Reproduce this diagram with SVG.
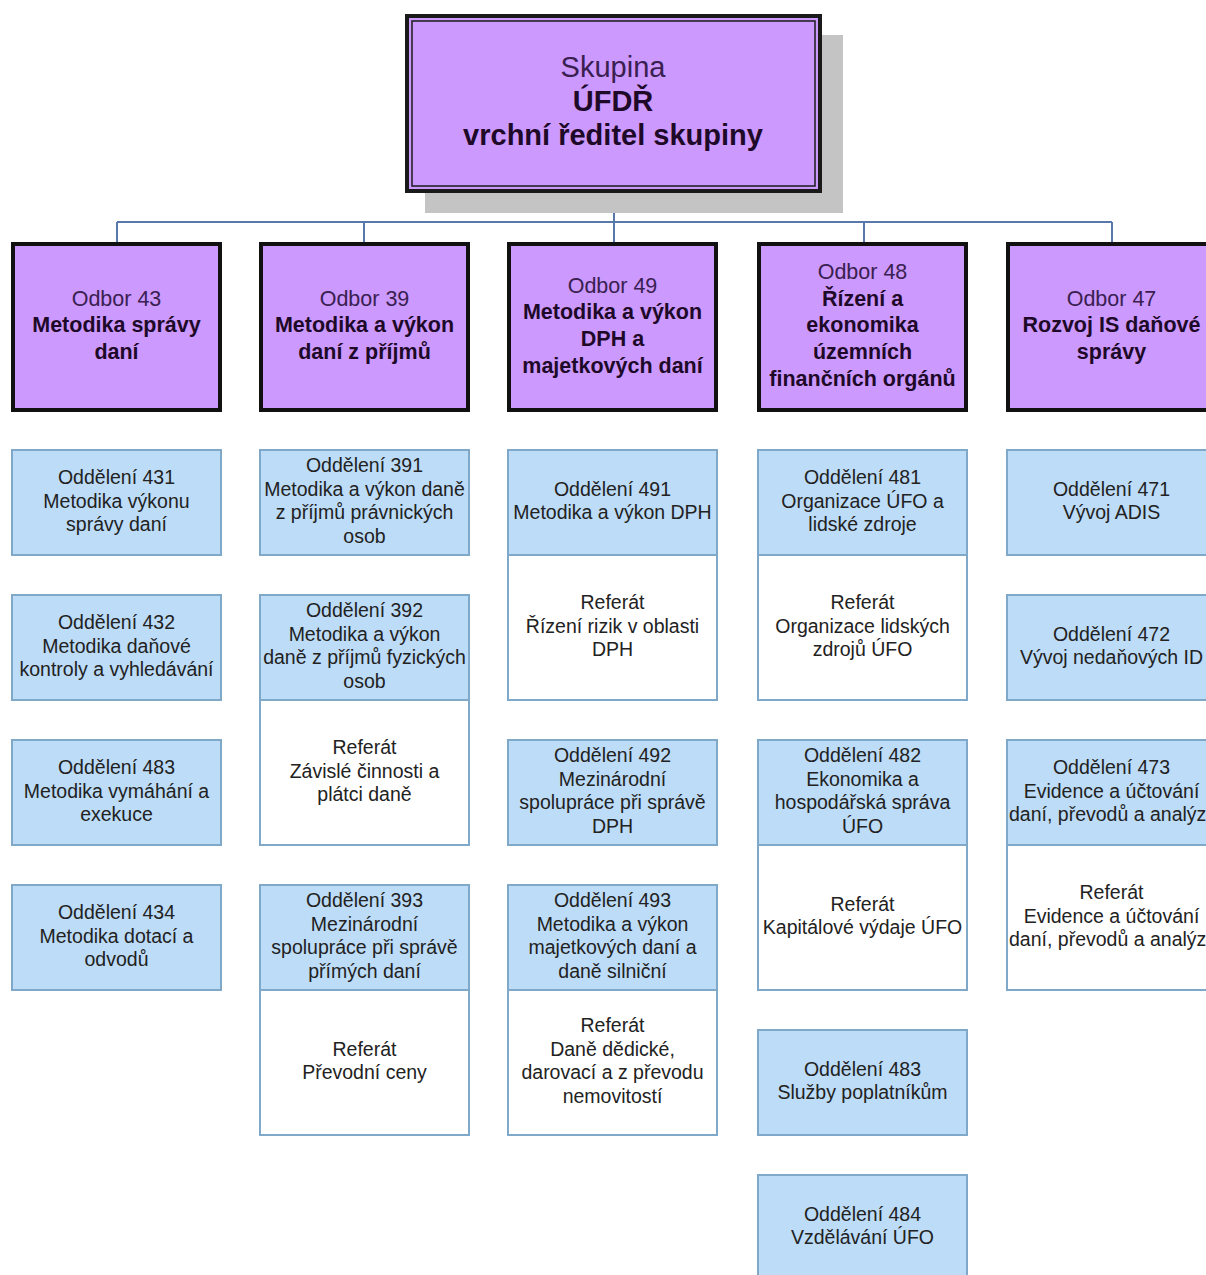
<svg xmlns="http://www.w3.org/2000/svg" width="1206" height="1275" viewBox="0 0 1206 1275">
<style>
.odb{fill:#CC99FF;stroke:#111;stroke-width:4}
.dep{fill:#BDDCF8;stroke:#80A8C8;stroke-width:2}
.ref{fill:#FFFFFF;stroke:#80A8C8;stroke-width:2}
.t{font-family:"Liberation Sans",Arial,sans-serif;font-size:19.5px;fill:#222;text-anchor:middle}
.ts{font-family:"Liberation Sans",Arial,sans-serif;font-size:19.5px;fill:#222;text-anchor:start}
.or{font-family:"Liberation Sans",Arial,sans-serif;font-size:21.5px;fill:#3a2050;text-anchor:middle}
.ob{font-family:"Liberation Sans",Arial,sans-serif;font-size:21.5px;font-weight:bold;fill:#1e0a28;text-anchor:middle}
.tr{font-family:"Liberation Sans",Arial,sans-serif;font-size:29px;fill:#3a2050;text-anchor:middle}
.tb{font-family:"Liberation Sans",Arial,sans-serif;font-size:29px;font-weight:bold;fill:#1e0a28;text-anchor:middle}
.con{fill:none;stroke:#5878AC;stroke-width:2}
</style>
<rect width="1206" height="1275" fill="#FFFFFF"/>
<g id="connectors">
<path class="con" d="M614,192 V222 M117,222 H1112 M117,222 V244 M364,222 V244 M614,222 V244 M864,222 V244 M1112,222 V244"/>
</g>
<g id="skupina">
<rect x="425" y="35" width="418" height="178" fill="#C4C4C4"/>
<rect x="407" y="16" width="413" height="175" fill="#CC99FF" stroke="#1a1a1a" stroke-width="4"/>
<rect x="412" y="21" width="403" height="165" fill="none" stroke="#1a1a1a" stroke-width="1.5"/>
<text class="tr" x="613" y="77">Skupina</text>
<text class="tb" x="613" y="111">ÚFDŘ</text>
<text class="tb" x="613" y="145">vrchní ředitel skupiny</text>
</g>
<g id="odbor43">
<rect class="odb" x="13" y="244" width="207" height="166"/>
<text class="or" x="116.5" y="305.5">Odbor 43</text>
<text class="ob" x="116.5" y="332.2">Metodika správy</text>
<text class="ob" x="116.5" y="358.9">daní</text>
</g>
<g id="odbor39">
<rect class="odb" x="261" y="244" width="207" height="166"/>
<text class="or" x="364.5" y="305.5">Odbor 39</text>
<text class="ob" x="364.5" y="332.2">Metodika a výkon</text>
<text class="ob" x="364.5" y="358.9">daní z příjmů</text>
</g>
<g id="odbor49">
<rect class="odb" x="509" y="244" width="207" height="166"/>
<text class="or" x="612.5" y="292.5">Odbor 49</text>
<text class="ob" x="612.5" y="319.2">Metodika a výkon</text>
<text class="ob" x="612.5" y="345.9">DPH a</text>
<text class="ob" x="612.5" y="372.6">majetkových daní</text>
</g>
<g id="odbor48">
<rect class="odb" x="759" y="244" width="207" height="166"/>
<text class="or" x="862.5" y="279">Odbor 48</text>
<text class="ob" x="862.5" y="305.7">Řízení a</text>
<text class="ob" x="862.5" y="332.4">ekonomika</text>
<text class="ob" x="862.5" y="359.1">územních</text>
<text class="ob" x="862.5" y="385.8">finančních orgánů</text>
</g>
<g id="odbor47">
<rect class="odb" x="1008" y="244" width="207" height="166"/>
<text class="or" x="1111.5" y="305.5">Odbor 47</text>
<text class="ob" x="1111.5" y="332.2">Rozvoj IS daňové</text>
<text class="ob" x="1111.5" y="358.9">správy</text>
</g>
<g id="odd431">
<rect class="dep" x="12" y="450" width="209" height="105"/>
<text class="t" y="484"><tspan x="116.5">Oddělení 431</tspan><tspan x="116.5" dy="23.5">Metodika výkonu</tspan><tspan x="116.5" dy="23.5">správy daní</tspan></text>
</g>
<g id="odd432">
<rect class="dep" x="12" y="595" width="209" height="105"/>
<text class="t" y="629"><tspan x="116.5">Oddělení 432</tspan><tspan x="116.5" dy="23.5">Metodika daňové</tspan><tspan x="116.5" dy="23.5">kontroly a vyhledávání</tspan></text>
</g>
<g id="odd483a">
<rect class="dep" x="12" y="740" width="209" height="105"/>
<text class="t" y="774"><tspan x="116.5">Oddělení 483</tspan><tspan x="116.5" dy="23.5">Metodika vymáhání a</tspan><tspan x="116.5" dy="23.5">exekuce</tspan></text>
</g>
<g id="odd434">
<rect class="dep" x="12" y="885" width="209" height="105"/>
<text class="t" y="919"><tspan x="116.5">Oddělení 434</tspan><tspan x="116.5" dy="23.5">Metodika dotací a</tspan><tspan x="116.5" dy="23.5">odvodů</tspan></text>
</g>
<g id="odd391">
<rect class="dep" x="260" y="450" width="209" height="105"/>
<text class="t" y="472.25"><tspan x="364.5">Oddělení 391</tspan><tspan x="364.5" dy="23.5">Metodika a výkon daně</tspan><tspan x="364.5" dy="23.5">z příjmů právnických</tspan><tspan x="364.5" dy="23.5">osob</tspan></text>
</g>
<g id="odd392">
<rect class="dep" x="260" y="595" width="209" height="105"/>
<text class="t" y="617.25"><tspan x="364.5">Oddělení 392</tspan><tspan x="364.5" dy="23.5">Metodika a výkon</tspan><tspan x="364.5" dy="23.5">daně z příjmů fyzických</tspan><tspan x="364.5" dy="23.5">osob</tspan></text>
</g>
<g id="ref392">
<rect class="ref" x="260" y="700" width="209" height="145"/>
<text class="t" y="754"><tspan x="364.5">Referát</tspan><tspan x="364.5" dy="23.5">Závislé činnosti a</tspan><tspan x="364.5" dy="23.5">plátci daně</tspan></text>
</g>
<g id="odd393">
<rect class="dep" x="260" y="885" width="209" height="105"/>
<text class="t" y="907.25"><tspan x="364.5">Oddělení 393</tspan><tspan x="364.5" dy="23.5">Mezinárodní</tspan><tspan x="364.5" dy="23.5">spolupráce při správě</tspan><tspan x="364.5" dy="23.5">přímých daní</tspan></text>
</g>
<g id="ref393">
<rect class="ref" x="260" y="990" width="209" height="145"/>
<text class="t" y="1055.75"><tspan x="364.5">Referát</tspan><tspan x="364.5" dy="23.5">Převodní ceny</tspan></text>
</g>
<g id="odd491">
<rect class="dep" x="508" y="450" width="209" height="105"/>
<text class="t" y="495.75"><tspan x="612.5">Oddělení 491</tspan><tspan x="612.5" dy="23.5">Metodika a výkon DPH</tspan></text>
</g>
<g id="ref491">
<rect class="ref" x="508" y="555" width="209" height="145"/>
<text class="t" y="609"><tspan x="612.5">Referát</tspan><tspan x="612.5" dy="23.5">Řízení rizik v oblasti</tspan><tspan x="612.5" dy="23.5">DPH</tspan></text>
</g>
<g id="odd492">
<rect class="dep" x="508" y="740" width="209" height="105"/>
<text class="t" y="762.25"><tspan x="612.5">Oddělení 492</tspan><tspan x="612.5" dy="23.5">Mezinárodní</tspan><tspan x="612.5" dy="23.5">spolupráce při správě</tspan><tspan x="612.5" dy="23.5">DPH</tspan></text>
</g>
<g id="odd493">
<rect class="dep" x="508" y="885" width="209" height="105"/>
<text class="t" y="907.25"><tspan x="612.5">Oddělení 493</tspan><tspan x="612.5" dy="23.5">Metodika a výkon</tspan><tspan x="612.5" dy="23.5">majetkových daní a</tspan><tspan x="612.5" dy="23.5">daně silniční</tspan></text>
</g>
<g id="ref493">
<rect class="ref" x="508" y="990" width="209" height="145"/>
<text class="t" y="1032.25"><tspan x="612.5">Referát</tspan><tspan x="612.5" dy="23.5">Daně dědické,</tspan><tspan x="612.5" dy="23.5">darovací a z převodu</tspan><tspan x="612.5" dy="23.5">nemovitostí</tspan></text>
</g>
<g id="odd481">
<rect class="dep" x="758" y="450" width="209" height="105"/>
<text class="t" y="484"><tspan x="862.5">Oddělení 481</tspan><tspan x="862.5" dy="23.5">Organizace ÚFO a</tspan><tspan x="862.5" dy="23.5">lidské zdroje</tspan></text>
</g>
<g id="ref481">
<rect class="ref" x="758" y="555" width="209" height="145"/>
<text class="t" y="609"><tspan x="862.5">Referát</tspan><tspan x="862.5" dy="23.5">Organizace lidských</tspan><tspan x="862.5" dy="23.5">zdrojů ÚFO</tspan></text>
</g>
<g id="odd482">
<rect class="dep" x="758" y="740" width="209" height="105"/>
<text class="t" y="762.25"><tspan x="862.5">Oddělení 482</tspan><tspan x="862.5" dy="23.5">Ekonomika a</tspan><tspan x="862.5" dy="23.5">hospodářská správa</tspan><tspan x="862.5" dy="23.5">ÚFO</tspan></text>
</g>
<g id="ref482">
<rect class="ref" x="758" y="845" width="209" height="145"/>
<text class="t" y="910.75"><tspan x="862.5">Referát</tspan><tspan x="862.5" dy="23.5">Kapitálové výdaje ÚFO</tspan></text>
</g>
<g id="odd483b">
<rect class="dep" x="758" y="1030" width="209" height="105"/>
<text class="t" y="1075.75"><tspan x="862.5">Oddělení 483</tspan><tspan x="862.5" dy="23.5">Služby poplatníkům</tspan></text>
</g>
<g id="odd484">
<rect class="dep" x="758" y="1175" width="209" height="105"/>
<text class="t" y="1220.75"><tspan x="862.5">Oddělení 484</tspan><tspan x="862.5" dy="23.5">Vzdělávání ÚFO</tspan></text>
</g>
<g id="odd471">
<rect class="dep" x="1007" y="450" width="209" height="105"/>
<text class="t" y="495.75"><tspan x="1111.5">Oddělení 471</tspan><tspan x="1111.5" dy="23.5">Vývoj ADIS</tspan></text>
</g>
<g id="odd472">
<rect class="dep" x="1007" y="595" width="209" height="105"/>
<text class="t" y="640.75"><tspan x="1111.5">Oddělení 472</tspan><tspan x="1111.5" dy="23.5">Vývoj nedaňových ID</tspan></text>
</g>
<g id="odd473">
<rect class="dep" x="1007" y="740" width="209" height="105"/>
<text class="t" y="774"><tspan x="1111.5">Oddělení 473</tspan><tspan x="1111.5" dy="23.5">Evidence a účtování</tspan></text>
<text class="ts" x="1009" y="821">daní, převodů a analýz</text>
</g>
<g id="ref473">
<rect class="ref" x="1007" y="845" width="209" height="145"/>
<text class="t" y="899"><tspan x="1111.5">Referát</tspan><tspan x="1111.5" dy="23.5">Evidence a účtování</tspan></text>
<text class="ts" x="1009" y="946">daní, převodů a analýz</text>
</g>
</svg>
